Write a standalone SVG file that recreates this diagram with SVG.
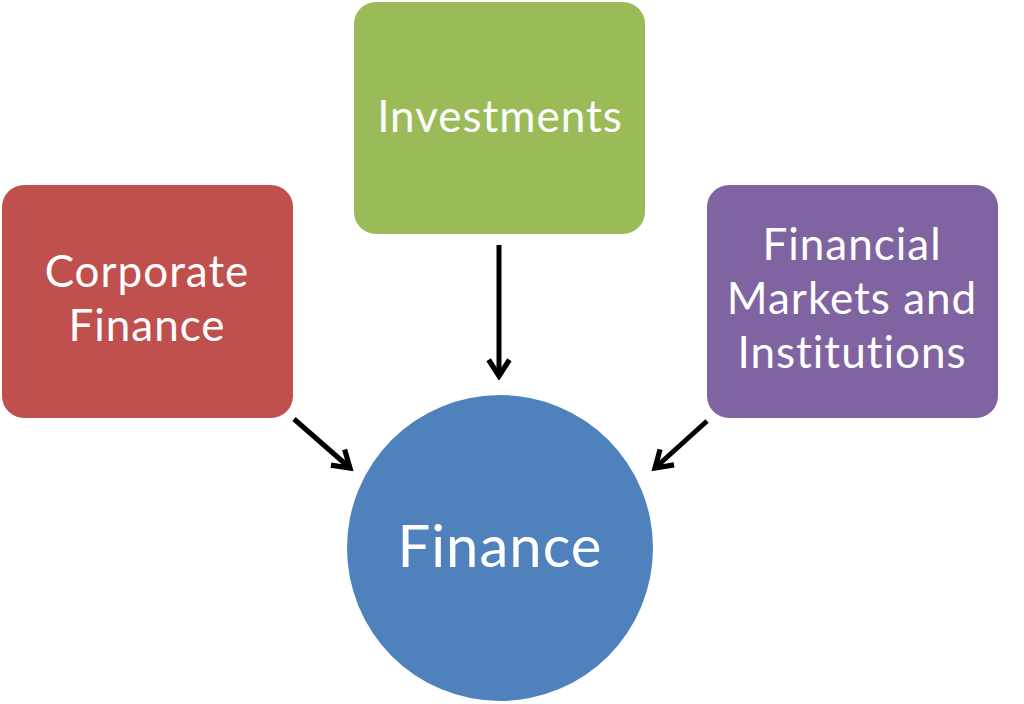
<svg xmlns="http://www.w3.org/2000/svg" width="1024" height="704" viewBox="0 0 1024 704">
<defs>
<style>
.lbl{font-family:Lato,"Open Sans",sans-serif;fill:#fff;text-anchor:middle}
.m{font-size:44px;letter-spacing:1px}
.conn{stroke:#000;stroke-width:5;fill:none}
</style>
<marker id="ah" viewBox="0 0 12 12" refX="10" refY="6" markerWidth="5.2" markerHeight="5.8" orient="auto" markerUnits="strokeWidth">
<path d="M2.5,1.2 L10,6 L2.5,10.8" fill="none" stroke="#000" stroke-width="2.4" stroke-linejoin="miter"/>
</marker>
</defs>
<rect width="1024" height="704" fill="#fff"/>
<g id="corporate-finance">
<rect x="2" y="185" width="291" height="233" rx="22" fill="#C0504D"/>
<text class="lbl m" x="147" y="287"><tspan x="147">Corporate</tspan><tspan x="147" dy="54">Finance</tspan></text>
</g>
<g id="investments">
<rect x="354" y="2" width="291" height="232" rx="22" fill="#9BBB59"/>
<text class="lbl m" x="500" y="132">Investments</text>
</g>
<g id="financial-markets">
<rect x="707" y="185" width="291" height="233" rx="22" fill="#8064A2"/>
<text class="lbl m" x="852" y="260"><tspan x="852">Financial</tspan><tspan x="852" dy="54">Markets and</tspan><tspan x="852" dy="54">Institutions</tspan></text>
</g>
<g id="finance">
<circle cx="500" cy="548" r="153" fill="#4F81BD"/>
<text class="lbl" x="500" y="567" font-size="58" letter-spacing="1">Finance</text>
</g>
<g id="connectors">
<line class="conn" x1="294" y1="419" x2="350" y2="468" marker-end="url(#ah)"/>
<line class="conn" x1="499" y1="245" x2="499" y2="376" marker-end="url(#ah)"/>
<line class="conn" x1="707" y1="421" x2="655" y2="468" marker-end="url(#ah)"/>
</g>
</svg>
